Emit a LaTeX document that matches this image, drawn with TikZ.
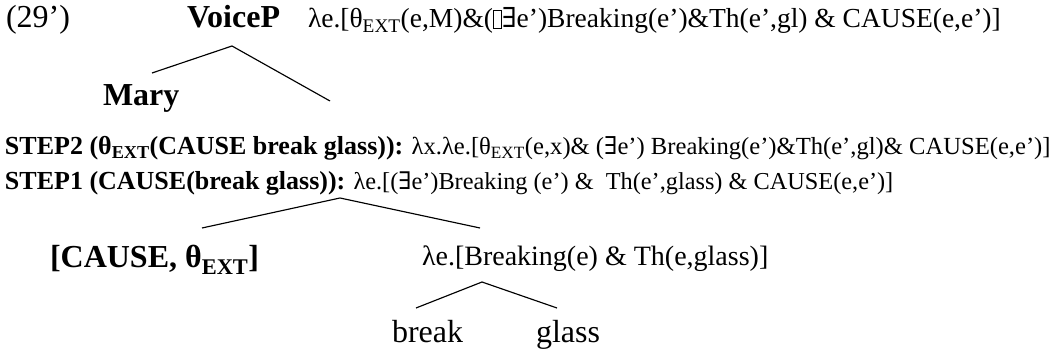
\documentclass[tikz,border=0pt]{standalone}
\usepackage{fontspec}
\setmainfont{Liberation Serif}
\newfontfamily\symfont{DejaVu Serif}
\usetikzlibrary{calc}
\newcommand\sbx[1]{\textsubscript{#1}}
\newcommand\exi{{\symfont ∃}}
\newcommand\nobox{{\setlength\fboxsep{0pt}\setlength\fboxrule{0.5pt}\fbox{\rule{0pt}{0.62em}\hspace{0.28em}}}}
\newcommand\stepbold[1]{{\fontsize{26}{30}\selectfont\bfseries #1}}
\begin{document}
\begin{tikzpicture}[x=1pt,y=-1pt,
  every node/.style={inner sep=0pt,outer sep=0pt,anchor=base west},
  bigtxt/.style={font=\fontsize{32}{36}\selectfont},
  bigbold/.style={font=\fontsize{32}{36}\selectfont\bfseries},
  midtxt/.style={font=\fontsize{27.5}{32}\selectfont},
  lamtxt/.style={font=\fontsize{28}{32}\selectfont},
  steptxt/.style={font=\fontsize{24}{28}\selectfont},
  branch/.style={line width=1.15pt}]
\useasboundingbox (0,0) rectangle (1053,355);
\node[bigtxt] (ex) at (6,28) {(29’)};
\node[bigbold] (voicep) at (187,28) {VoiceP};
\node[midtxt] (vpsem) at (308,28) {λe.[θ\sbx{EXT}(e,M)\&(\nobox\exi e’)Breaking(e’)\&Th(e’,gl) \& CAUSE(e,e’)]};
\node[bigbold] (mary) at (103,106) {Mary};
\coordinate (vpright) at (330,101);
\node[steptxt,font=\fontsize{24.6}{28}\selectfont] (step2) at (5,155) {\stepbold{STEP2 (θ\sbx{EXT}(CAUSE break glass)):} λx.λe.[θ\sbx{EXT}(e,x)\& (\exi e’) Breaking(e’)\&Th(e’,gl)\& CAUSE(e,e’)]};
\node[steptxt,font=\fontsize{24.3}{28}\selectfont] (step1) at (5,190) {\stepbold{STEP1 (CAUSE(break glass)):} λe.[(\exi e’)Breaking (e’) \&\ \ Th(e’,glass) \& CAUSE(e,e’)]};
\node[bigbold] (cause) at (50,268) {[CAUSE, θ\sbx{EXT}]};
\node[lamtxt] (lam) at (422,266) {λe.[Breaking(e) \& Th(e,glass)]};
\node[bigtxt] (brk) at (392,343) {break};
\node[bigtxt] (gls) at (536,343) {glass};
% VoiceP tree
\draw[branch] ($(mary.base west)+(49,-33)$) -- ($(voicep.base west)+(45,18)$) -- (vpright);
% STEP1 tree
\draw[branch] ($(cause.base west)+(152,-40)$) -- ($(step1.base west)+(335,8)$) -- ($(lam.base west)+(58,-38)$);
% lower tree
\draw[branch] ($(brk.base west)+(24,-35)$) -- ($(lam.base west)+(60,16)$) -- ($(gls.base west)+(21,-35)$);
\end{tikzpicture}
\end{document}
